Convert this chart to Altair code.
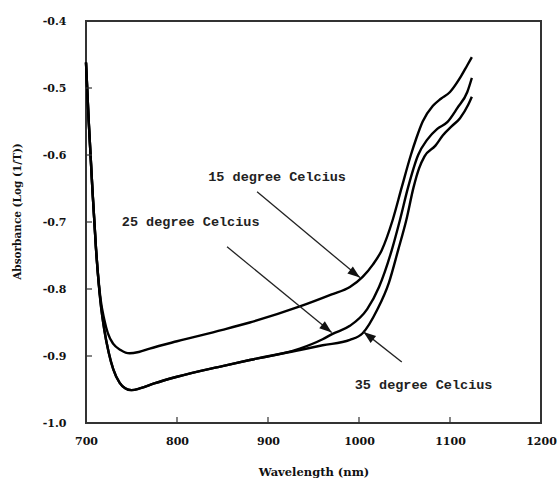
import altair as alt
import pandas as pd

# ---- data ----
wl_15 = [700, 703, 707, 711, 716, 720, 724, 730, 738, 748, 758, 770, 800, 850, 880, 935, 970, 990,
         1004, 1015, 1025, 1037, 1047, 1057, 1063, 1070, 1081, 1090, 1100, 1111, 1119, 1124]
ab_15 = [-0.462, -0.55, -0.65, -0.74, -0.815, -0.845, -0.866, -0.882, -0.891, -0.896, -0.894, -0.889,
         -0.878, -0.861, -0.850, -0.826, -0.808, -0.797, -0.782, -0.764, -0.742, -0.697, -0.648, -0.600,
         -0.575, -0.550, -0.527, -0.516, -0.506, -0.485, -0.466, -0.454]

wl_25 = [700, 703, 707, 711, 716, 720, 725, 730, 737, 743, 750, 760, 775, 800, 850, 880, 935, 960,
         971, 990, 1009, 1022, 1036, 1045, 1054, 1065, 1075, 1086, 1097, 1108, 1119, 1124]
ab_25 = [-0.462, -0.55, -0.65, -0.74, -0.82, -0.86, -0.895, -0.920, -0.940, -0.948, -0.951, -0.948,
         -0.941, -0.931, -0.915, -0.906, -0.889, -0.875, -0.867, -0.855, -0.830, -0.797, -0.742, -0.697,
         -0.648, -0.600, -0.577, -0.561, -0.551, -0.530, -0.506, -0.485]

wl_35 = [700, 703, 707, 711, 716, 720, 725, 730, 737, 743, 750, 760, 775, 800, 850, 880, 935, 960,
         990, 1004, 1020, 1033, 1043, 1052, 1060, 1066, 1072, 1084, 1092, 1102, 1111, 1120, 1124]
ab_35 = [-0.462, -0.55, -0.65, -0.74, -0.82, -0.86, -0.895, -0.920, -0.940, -0.948, -0.951, -0.948,
         -0.941, -0.931, -0.915, -0.906, -0.891, -0.884, -0.876, -0.866, -0.831, -0.790, -0.742, -0.697,
         -0.648, -0.620, -0.602, -0.586, -0.571, -0.557, -0.545, -0.525, -0.513]

labels = ["15 degree Celcius", "25 degree Celcius", "35 degree Celcius"]
label_x = [910, 815, 1071]
label_y = [-0.633, -0.700, -0.943]

arrow_x1 = [888, 855, 1047]
arrow_y1 = [-0.655, -0.737, -0.909]
arrow_x2 = [1001, 970, 1005]
arrow_y2 = [-0.783, -0.865, -0.864]
arrow_angle = [128, 129, 308]

x_ticks = [700, 800, 900, 1000, 1100, 1200]
y_ticks = [-1.0, -0.9, -0.8, -0.7, -0.6, -0.5, -0.4]

# ---- tables ----
rows = []
for name, xs, ys in [("15", wl_15, ab_15), ("25", wl_25, ab_25), ("35", wl_35, ab_35)]:
    for a, b in zip(xs, ys):
        rows.append({"series": name, "wl": a, "ab": b})
curves = pd.DataFrame(rows)
ann = pd.DataFrame({"label": labels, "x": label_x, "y": label_y})
arr = pd.DataFrame({"x1": arrow_x1, "y1": arrow_y1, "x2": arrow_x2, "y2": arrow_y2, "angle": arrow_angle})
xt = pd.DataFrame({"v": x_ticks[1:-1]})
yt = pd.DataFrame({"v": y_ticks[1:-1]})

W, H = 455, 402
FONT = "DejaVu Serif"

xscale = alt.Scale(domain=[700, 1200], nice=False)
yscale = alt.Scale(domain=[-1.0, -0.4], nice=False)

xaxis = alt.Axis(title="Wavelength (nm)", values=x_ticks, format="d", ticks=False, tickSize=0, domain=False,
                 grid=False, labelFont=FONT, labelFontWeight="bold", labelFontSize=11, labelColor="#111",
                 labelPadding=12, titleFont=FONT, titleFontWeight="bold", titleFontSize=11.5,
                 titleColor="#111", titleY=49, titleBaseline="middle", labelFlush=False)
yaxis = alt.Axis(title="Absorbance (Log (1/T))", values=y_ticks, ticks=False, tickSize=0, domain=False,
                 grid=False, labelFont=FONT, labelFontWeight="bold", labelFontSize=11, labelColor="#111",
                 labelPadding=20, labelExpr="(datum.value < 0 ? '-' : '') + format(abs(datum.value), '.1f')",
                 titleFont=FONT, titleFontWeight="bold", titleFontSize=10.5, titleColor="#111",
                 titleX=-69, titleY=190, titleAngle=270, titleAlign="center", titleBaseline="middle",
                 labelFlush=False)

lines = alt.Chart(curves).mark_line(color="black", strokeWidth=2.4, interpolate="monotone").encode(
    x=alt.X("wl:Q", scale=xscale, axis=xaxis),
    y=alt.Y("ab:Q", scale=yscale, axis=yaxis),
    detail="series:N",
)

xtick_marks = alt.Chart(xt).mark_rule(color="#333", strokeWidth=1.2).encode(
    x=alt.X("v:Q", scale=xscale), y=alt.value(H), y2=alt.value(H - 6))
ytick_marks = alt.Chart(yt).mark_rule(color="#333", strokeWidth=1.2).encode(
    y=alt.Y("v:Q", scale=yscale), x=alt.value(0), x2=alt.value(6))

arrow_lines = alt.Chart(arr).mark_rule(color="#222", strokeWidth=1.3).encode(
    x=alt.X("x1:Q", scale=xscale), y=alt.Y("y1:Q", scale=yscale), x2="x2:Q", y2="y2:Q")
arrow_heads = alt.Chart(arr).mark_point(shape="M0,0L-0.75,2.1L0.75,2.1Z", filled=True, color="#111",
                                        size=140, opacity=1).encode(
    x=alt.X("x2:Q", scale=xscale), y=alt.Y("y2:Q", scale=yscale), angle=alt.Angle("angle:Q", scale=None))

texts = alt.Chart(ann).mark_text(font="Liberation Mono", fontSize=13.5, fontWeight="bold", color="#222",
                                 align="center", baseline="middle").encode(
    x=alt.X("x:Q", scale=xscale), y=alt.Y("y:Q", scale=yscale), text="label:N")

chart = alt.layer(lines, xtick_marks, ytick_marks, arrow_lines, arrow_heads, texts).properties(
    width=W, height=H,
    autosize=alt.AutoSizeParams(type="none"),
    padding={"left": 86, "top": 21, "right": 18, "bottom": 65},
    background="white",
).configure_view(stroke="#333", strokeWidth=2)

chart.save("out.html", embed_options={"renderer": "svg", "actions": False})
